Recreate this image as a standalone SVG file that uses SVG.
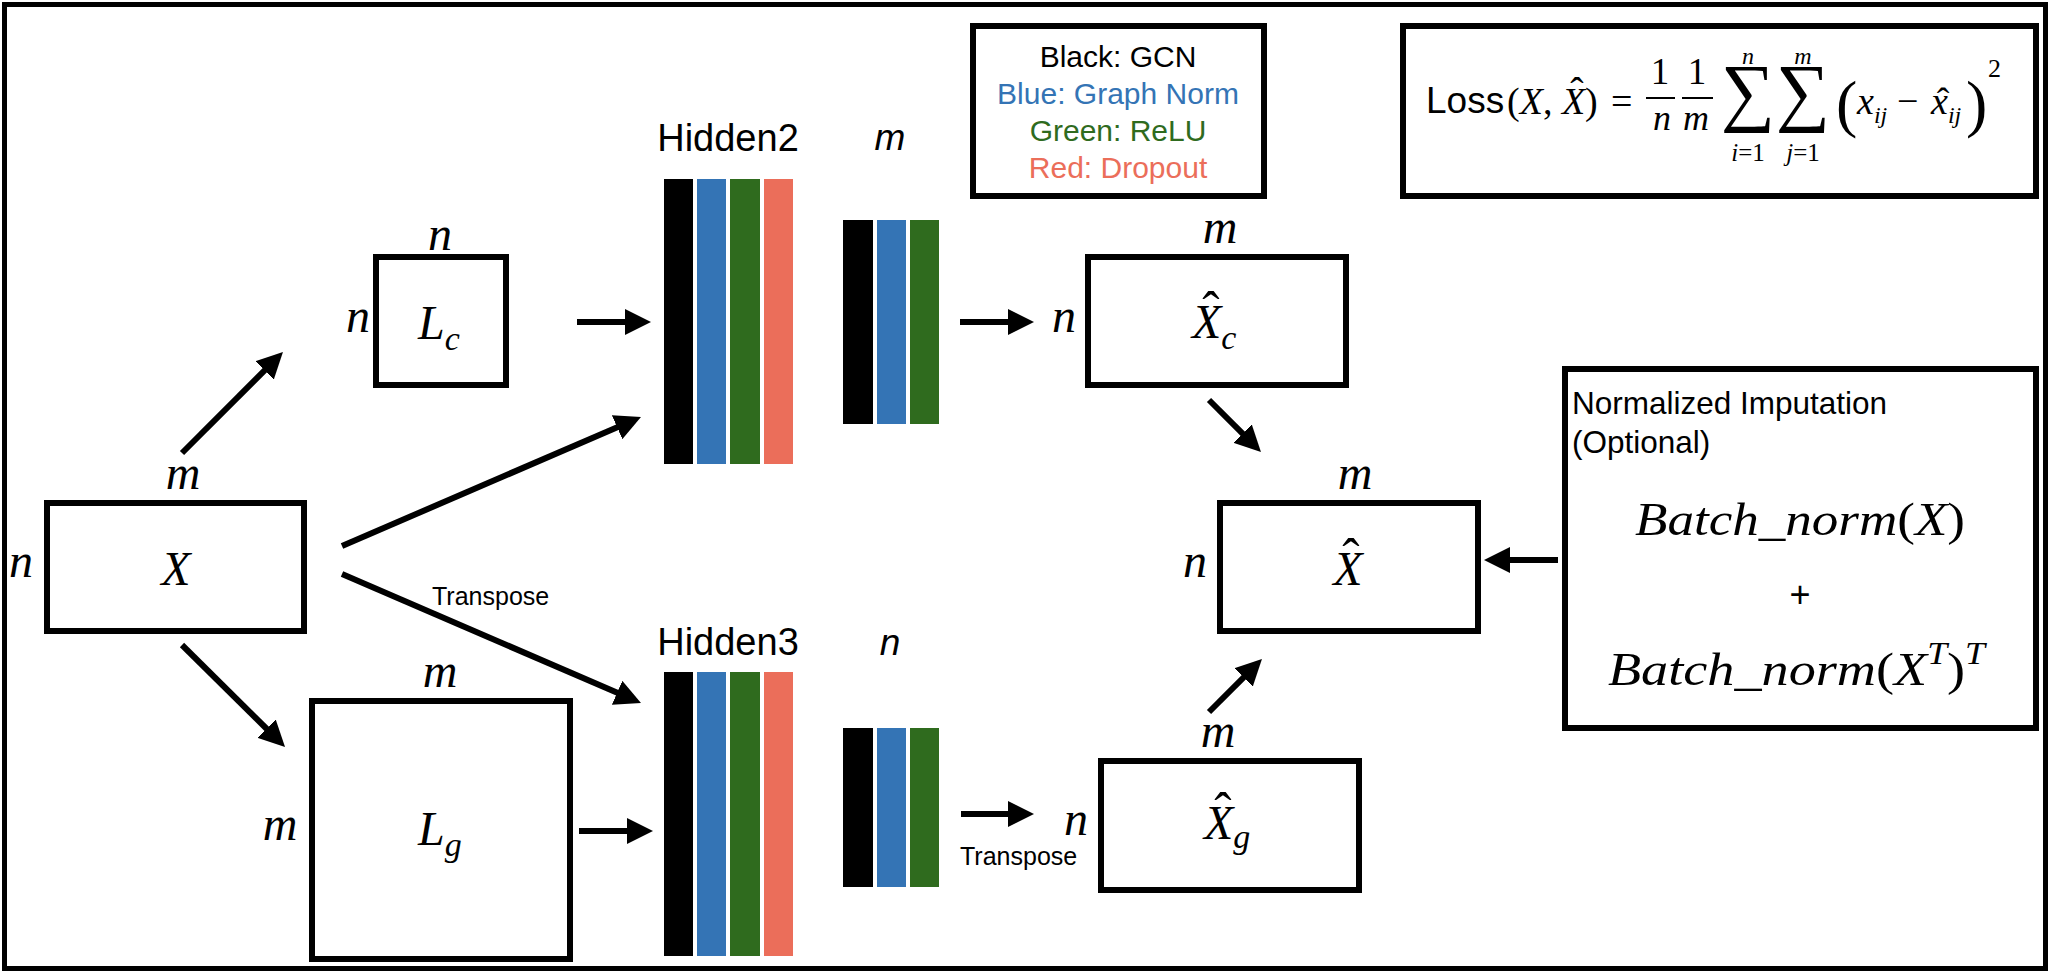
<svg xmlns="http://www.w3.org/2000/svg" width="2054" height="974" viewBox="0 0 2054 974">
<style>
.box{fill:#fff;stroke:#000;stroke-width:6}
.conn{stroke:#000;stroke-width:6;fill:none}
.mi{font-family:"Liberation Serif","Times New Roman",serif;font-style:italic;fill:#000}
.mr{font-family:"Liberation Serif","Times New Roman",serif;font-style:normal;fill:#000}
.sans{font-family:"Liberation Sans",Arial,sans-serif;fill:#000}
.lbl{font-size:48px;text-anchor:middle}
.hat{font-family:"Liberation Serif","Times New Roman",serif;font-style:normal;text-anchor:middle;fill:#000}
.k{fill:#000}.b{fill:#3474B5}.g{fill:#2F6B1E}.r{fill:#EB6E5A}
</style>
<defs>
<marker id="ah" markerWidth="26" markerHeight="26" refX="4" refY="13" orient="auto" markerUnits="userSpaceOnUse">
<path d="M0,0 L26,13 L0,26 z" fill="#000"/>
</marker>
</defs>
<rect x="0" y="0" width="2054" height="974" fill="#fff"/>
<rect x="4.5" y="4.5" width="2041" height="964" fill="none" stroke="#000" stroke-width="5"/>

<g id="node-X">
<rect class="box" x="47" y="503" width="257" height="128"/>
<text class="mi lbl" x="183" y="489">m</text>
<text class="mi lbl" x="21" y="577">n</text>
<text class="mi lbl" x="176" y="585">X</text>
</g>

<g id="node-Lc">
<rect class="box" x="376" y="257" width="130" height="128"/>
<text class="mi lbl" x="440" y="250">n</text>
<text class="mi lbl" x="358" y="332">n</text>
<text class="mi" font-size="48" x="418" y="339">L<tspan font-size="34" dy="11">c</tspan></text>
</g>

<g id="node-Lg">
<rect class="box" x="312" y="701" width="258" height="258"/>
<text class="mi lbl" x="440" y="687">m</text>
<text class="mi lbl" x="280" y="840">m</text>
<text class="mi" font-size="48" x="418" y="845">L<tspan font-size="34" dy="11">g</tspan></text>
</g>

<g id="node-Hidden2">
<text class="sans" font-size="38" text-anchor="middle" x="728" y="151">Hidden2</text>
<rect class="k" x="664" y="179" width="29" height="285"/>
<rect class="b" x="697" y="179" width="29" height="285"/>
<rect class="g" x="730" y="179" width="30" height="285"/>
<rect class="r" x="764" y="179" width="29" height="285"/>
</g>

<g id="node-Bars2">
<text class="sans" font-size="37" font-style="italic" text-anchor="middle" x="890" y="150">m</text>
<rect class="k" x="843" y="220" width="30" height="204"/>
<rect class="b" x="877" y="220" width="29" height="204"/>
<rect class="g" x="910" y="220" width="29" height="204"/>
</g>

<g id="node-Hidden3">
<text class="sans" font-size="38" text-anchor="middle" x="728" y="655">Hidden3</text>
<rect class="k" x="664" y="672" width="29" height="284"/>
<rect class="b" x="697" y="672" width="29" height="284"/>
<rect class="g" x="730" y="672" width="30" height="284"/>
<rect class="r" x="764" y="672" width="29" height="284"/>
</g>

<g id="node-Bars3">
<text class="sans" font-size="37" font-style="italic" text-anchor="middle" x="890" y="655">n</text>
<rect class="k" x="843" y="728" width="30" height="159"/>
<rect class="b" x="877" y="728" width="29" height="159"/>
<rect class="g" x="910" y="728" width="29" height="159"/>
</g>

<g id="node-Xc">
<rect class="box" x="1088" y="257" width="258" height="128"/>
<text class="mi lbl" x="1220" y="243">m</text>
<text class="mi lbl" x="1064" y="332">n</text>
<text class="mi" font-size="48" x="1192" y="338">X<tspan font-size="34" dy="11">c</tspan></text>
<text class="hat" font-size="52" x="1211" y="328">ˆ</text>
</g>

<g id="node-Xhat">
<rect class="box" x="1220" y="503" width="258" height="128"/>
<text class="mi lbl" x="1355" y="489">m</text>
<text class="mi lbl" x="1195" y="577">n</text>
<text class="mi lbl" x="1348" y="585">X</text>
<text class="hat" font-size="52" x="1351" y="575">ˆ</text>
</g>

<g id="node-Xg">
<rect class="box" x="1101" y="761" width="258" height="129"/>
<text class="mi lbl" x="1218" y="747">m</text>
<text class="mi lbl" x="1076" y="835">n</text>
<text class="mi" font-size="48" x="1204" y="839">X<tspan font-size="34" dy="9">g</tspan></text>
<text class="hat" font-size="52" x="1223" y="829">ˆ</text>
</g>

<g id="node-legend">
<rect class="box" x="973" y="26" width="291" height="170"/>
<text class="sans" font-size="30" text-anchor="middle" x="1118" y="67">Black: GCN</text>
<text class="sans b" font-size="30" text-anchor="middle" x="1118" y="104">Blue: Graph Norm</text>
<text class="sans g" font-size="30" text-anchor="middle" x="1118" y="141">Green: ReLU</text>
<text class="sans r" font-size="30" text-anchor="middle" x="1118" y="178">Red: Dropout</text>
</g>

<g id="node-loss">
<rect class="box" x="1403" y="26" width="633" height="170"/>
<text class="sans" font-size="37" x="1426" y="113">Loss</text>
<text class="mr" font-size="38" x="1507" y="114">(<tspan font-style="italic">X</tspan>, <tspan font-style="italic">X</tspan>)</text>
<text class="hat" font-size="40" x="1577" y="105">ˆ</text>
<text class="mr" font-size="38" x="1611" y="114">=</text>
<text class="mr" font-size="37" text-anchor="middle" x="1660" y="84">1</text>
<text class="mr" font-size="37" text-anchor="middle" x="1697" y="84">1</text>
<line x1="1646" y1="98" x2="1675" y2="98" stroke="#000" stroke-width="2"/>
<line x1="1682" y1="98" x2="1713" y2="98" stroke="#000" stroke-width="2"/>
<text class="mi" font-size="36" text-anchor="middle" x="1662" y="130">n</text>
<text class="mi" font-size="36" text-anchor="middle" x="1696" y="130">m</text>
<text class="mr" font-size="76" text-anchor="middle" x="1748" y="117">∑</text>
<text class="mr" font-size="76" text-anchor="middle" x="1803" y="117">∑</text>
<text class="mi" font-size="24" text-anchor="middle" x="1748" y="64">n</text>
<text class="mi" font-size="24" text-anchor="middle" x="1803" y="64">m</text>
<text class="mr" font-size="25" text-anchor="middle" x="1748" y="161"><tspan font-style="italic">i</tspan>=1</text>
<text class="mr" font-size="25" text-anchor="middle" x="1803" y="161"><tspan font-style="italic">j</tspan>=1</text>
<text class="mr" font-size="64" x="1836" y="125">(</text>
<text class="mi" font-size="38" x="1857" y="114">x<tspan font-size="24" dy="9">ij</tspan></text>
<text class="mr" font-size="38" x="1897" y="114">−</text>
<text class="mi" font-size="38" x="1931" y="114">x<tspan font-size="24" dy="9">ij</tspan></text>
<text class="hat" font-size="38" x="1943" y="114">ˆ</text>
<text class="mr" font-size="64" x="1966" y="125">)</text>
<text class="mr" font-size="26" x="1988" y="77">2</text>
</g>

<g id="node-norm">
<rect class="box" x="1565" y="369" width="471" height="359"/>
<text class="sans" font-size="31.5" x="1572" y="414">Normalized Imputation</text>
<text class="sans" font-size="31.5" x="1572" y="453">(Optional)</text>
<text class="mi" font-size="47" x="1635" y="535" textLength="330" lengthAdjust="spacingAndGlyphs">Batch_norm<tspan font-style="normal">(</tspan>X<tspan font-style="normal">)</tspan></text>
<text class="sans" font-size="36" text-anchor="middle" x="1800" y="607">+</text>
<text class="mi" font-size="47" x="1608" y="685" textLength="377" lengthAdjust="spacingAndGlyphs">Batch_norm<tspan font-style="normal">(</tspan>X<tspan font-size="31" dy="-21">T</tspan><tspan font-style="normal" dy="21">)</tspan><tspan font-size="31" dy="-21">T</tspan></text>
</g>

<g id="connectors">
<line class="conn" x1="182" y1="453" x2="267.4" y2="367.6" marker-end="url(#ah)"/>
<line class="conn" x1="342" y1="546" x2="620.8" y2="425.7" marker-end="url(#ah)"/>
<line class="conn" x1="342" y1="574" x2="620.8" y2="694.3" marker-end="url(#ah)"/>
<text class="sans" font-size="25" x="432" y="605">Transpose</text>
<line class="conn" x1="182" y1="645" x2="269.4" y2="731.5" marker-end="url(#ah)"/>
<line class="conn" x1="577" y1="322" x2="629" y2="322" marker-end="url(#ah)"/>
<line class="conn" x1="579" y1="831" x2="631" y2="831" marker-end="url(#ah)"/>
<line class="conn" x1="960" y1="322" x2="1012" y2="322" marker-end="url(#ah)"/>
<line class="conn" x1="961" y1="814" x2="1012" y2="814" marker-end="url(#ah)"/>
<text class="sans" font-size="25" x="960" y="865">Transpose</text>
<line class="conn" x1="1209" y1="400" x2="1245.4" y2="436.4" marker-end="url(#ah)"/>
<line class="conn" x1="1209" y1="712" x2="1246.4" y2="674.6" marker-end="url(#ah)"/>
<line class="conn" x1="1558" y1="560" x2="1506" y2="560" marker-end="url(#ah)"/>
</g>
</svg>
